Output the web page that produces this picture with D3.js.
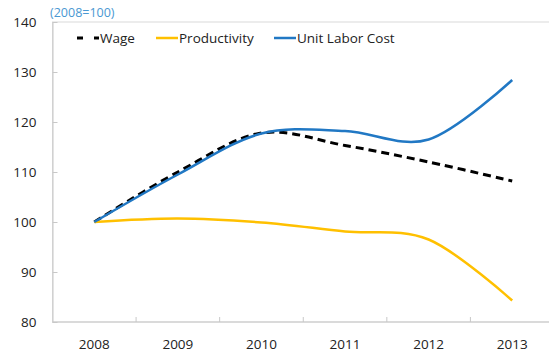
<!DOCTYPE html>
<html>
<head>
<meta charset="utf-8">
<script src="https://cdn.jsdelivr.net/npm/d3@7"></script>
<style>
  html, body { margin: 0; padding: 0; background: #fff; }
  svg { display: block; font-family: "Open Sans", "Noto Sans", sans-serif; }
</style>
</head>
<body>
<svg id="chart" width="549" height="353"></svg>
<script>
// Index values, 2008 = 100
const years = ["2008", "2009", "2010", "2011", "2012", "2013"];
const wage = [100, 110.0, 117.8, 115.3, 112.0, 108.2];
const productivity = [100, 100.7, 99.9, 98.1, 96.5, 84.3];
const unitLaborCost = [100, 109.5, 117.7, 118.2, 116.5, 128.4];
const yTicks = [80, 90, 100, 110, 120, 130, 140];

const seriesList = [
  { name: "Wage", values: wage, color: "#000000", width: 3, dash: "8,5", legendDash: "6,11" },
  { name: "Productivity", values: productivity, color: "#FFC000", width: 2.5, dash: null, legendDash: null },
  { name: "Unit Labor Cost", values: unitLaborCost, color: "#2178C4", width: 2.5, dash: null, legendDash: null }
];

const svg = d3.select("#chart");
const plot = { left: 52.5, top: 22, right: 554, bottom: 322 };

const x = d3.scaleBand().domain(years).range([plot.left, plot.right]);
const y = d3.scaleLinear().domain([80, 140]).range([plot.bottom, plot.top]);

// Plot area frame (top edge; right edge lies past the viewport)
svg.append("rect")
  .attr("x", plot.left).attr("y", plot.top)
  .attr("width", plot.right - plot.left).attr("height", plot.bottom - plot.top)
  .attr("fill", "none").attr("stroke", "#D9D9D9").attr("stroke-width", 1);

// Y axis with inward ticks
const yAxis = svg.append("g")
  .attr("transform", `translate(${plot.left},0)`)
  .call(d3.axisLeft(y).tickValues(yTicks).tickSizeInner(-5).tickSizeOuter(0).tickPadding(16));
yAxis.select(".domain").attr("stroke", "#C8C8C8");
yAxis.selectAll(".tick line").attr("stroke", "#C8C8C8");
yAxis.selectAll(".tick text")
  .attr("fill", "#222").attr("font-size", "13.5px")
  .attr("font-family", "\"Open Sans\", \"Noto Sans\", sans-serif");

// X axis: tick marks sit on the category boundaries
const xAxisG = svg.append("g").attr("transform", `translate(0,${plot.bottom})`);
xAxisG.append("line")
  .attr("x1", plot.left).attr("x2", plot.right)
  .attr("y1", 0).attr("y2", 0)
  .attr("stroke", "#C8C8C8");
xAxisG.selectAll("line.boundary")
  .data(years.slice(1))
  .join("line")
  .attr("class", "boundary")
  .attr("x1", d => x(d)).attr("x2", d => x(d))
  .attr("y1", 0).attr("y2", -5)
  .attr("stroke", "#C8C8C8");
xAxisG.selectAll("text")
  .data(years)
  .join("text")
  .attr("x", d => x(d) + x.bandwidth() / 2)
  .attr("y", 27)
  .attr("text-anchor", "middle")
  .attr("fill", "#222")
  .attr("font-size", "13.5px")
  .text(d => d);

// Unit caption
svg.append("text")
  .attr("x", 50).attr("y", 17)
  .attr("fill", "#4A98D2")
  .attr("font-size", "12.5px")
  .text("(2008=100)");

// Smoothed series lines
const line = d3.line()
  .x((d, i) => x(years[i]) + x.bandwidth() / 2)
  .y(d => y(d))
  .curve(d3.curveCardinal.tension(0));

svg.append("g").selectAll("path")
  .data(seriesList)
  .join("path")
  .attr("d", s => line(s.values))
  .attr("fill", "none")
  .attr("stroke", s => s.color)
  .attr("stroke-width", s => s.width)
  .attr("stroke-dasharray", s => s.dash)
  .attr("stroke-linecap", "butt");

// Legend
const legendPos = [77, 156, 274];
const legend = svg.append("g");
seriesList.forEach((s, i) => {
  const g = legend.append("g").attr("transform", `translate(${legendPos[i]},38)`);
  g.append("line")
    .attr("x1", 0).attr("x2", 22).attr("y1", 0).attr("y2", 0)
    .attr("stroke", s.color)
    .attr("stroke-width", s.width)
    .attr("stroke-dasharray", s.legendDash);
  g.append("text")
    .attr("x", 23).attr("y", 0)
    .attr("dy", "0.35em")
    .attr("fill", "#222")
    .attr("font-size", "13.5px")
    .text(s.name);
});
</script>
</body>
</html>
